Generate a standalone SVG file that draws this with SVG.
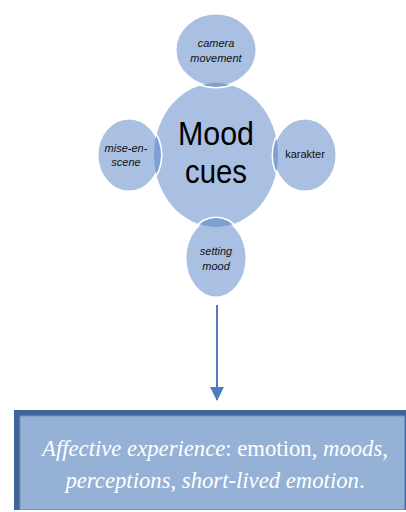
<svg xmlns="http://www.w3.org/2000/svg" width="406" height="512" viewBox="0 0 406 512">
<style>
.c{fill:#a9c0e2}
.sat{fill:#a9c0e2;stroke:#ffffff;stroke-width:3}
.ov{fill:#7d9fd1}
.lbl{fill:#111;text-anchor:middle}
.big{fill:#000;text-anchor:middle}
.bt{fill:#ffffff;text-anchor:middle}
</style>
<defs>
<clipPath id="cTop"><ellipse cx="216" cy="50" rx="41" ry="37"/></clipPath>
<clipPath id="cLeft"><ellipse cx="129" cy="155" rx="32" ry="37"/></clipPath>
<clipPath id="cRight"><ellipse cx="305" cy="155" rx="32" ry="37"/></clipPath>
<clipPath id="cBot"><ellipse cx="216" cy="258" rx="31" ry="40"/></clipPath>
<marker id="ah" markerWidth="14" markerHeight="14" refX="13" refY="7" orient="auto" markerUnits="userSpaceOnUse">
<path d="M0,0 L14,7 L0,14 z" fill="#4f7cc0"/>
</marker>
</defs>
<g id="main">
<ellipse class="c" cx="216" cy="155" rx="62" ry="72"/>
</g>
<g id="camera-movement" font-family="Liberation Sans, Arial, sans-serif" font-size="11" font-style="italic">
<ellipse class="sat" cx="216" cy="50" rx="41" ry="37"/>
<ellipse class="ov" cx="216" cy="155" rx="62" ry="72" clip-path="url(#cTop)"/>
<text class="lbl" x="216" y="47">camera</text>
<text class="lbl" x="216" y="62">movement</text>
</g>
<g id="mise-en-scene" font-family="Liberation Sans, Arial, sans-serif" font-size="11" font-style="italic">
<ellipse class="sat" cx="129" cy="155" rx="32" ry="37"/>
<ellipse class="ov" cx="216" cy="155" rx="62" ry="72" clip-path="url(#cLeft)"/>
<text class="lbl" x="126" y="152">mise-en-</text>
<text class="lbl" x="126" y="166">scene</text>
</g>
<g id="karakter" font-family="Liberation Sans, Arial, sans-serif" font-size="11">
<ellipse class="sat" cx="305" cy="155" rx="32" ry="37"/>
<ellipse class="ov" cx="216" cy="155" rx="62" ry="72" clip-path="url(#cRight)"/>
<text class="lbl" x="305" y="158">karakter</text>
</g>
<g id="setting-mood" font-family="Liberation Sans, Arial, sans-serif" font-size="11" font-style="italic">
<ellipse class="sat" cx="216" cy="258" rx="31" ry="40"/>
<ellipse class="ov" cx="216" cy="155" rx="62" ry="72" clip-path="url(#cBot)"/>
<text class="lbl" x="216" y="255">setting</text>
<text class="lbl" x="216" y="270">mood</text>
</g>
<g id="mood-cues-label" font-family="Liberation Sans, Arial, sans-serif" font-size="34">
<text class="big" x="216" y="145" textLength="76" lengthAdjust="spacingAndGlyphs">Mood</text>
<text class="big" x="216" y="183" textLength="62" lengthAdjust="spacingAndGlyphs">cues</text>
</g>
<g id="connectors">
<line x1="217" y1="305" x2="217" y2="400" stroke="#4f7cc0" stroke-width="2" marker-end="url(#ah)"/>
</g>
<g id="affective-experience" font-family="Liberation Serif, serif" font-size="22.7">
<rect x="14" y="410" width="392" height="100" fill="#3e6597"/>
<rect x="20" y="416" width="384.5" height="93.5" fill="#95b1d6" stroke="#7493c2" stroke-width="1"/>
<text class="bt" x="215" y="456"><tspan font-style="italic">Affective experience</tspan>: emotion, <tspan font-style="italic">moods</tspan>,</text>
<text class="bt" x="215" y="488"><tspan font-style="italic">perceptions</tspan>, <tspan font-style="italic">short-lived emotion</tspan>.</text>
</g>
</svg>
